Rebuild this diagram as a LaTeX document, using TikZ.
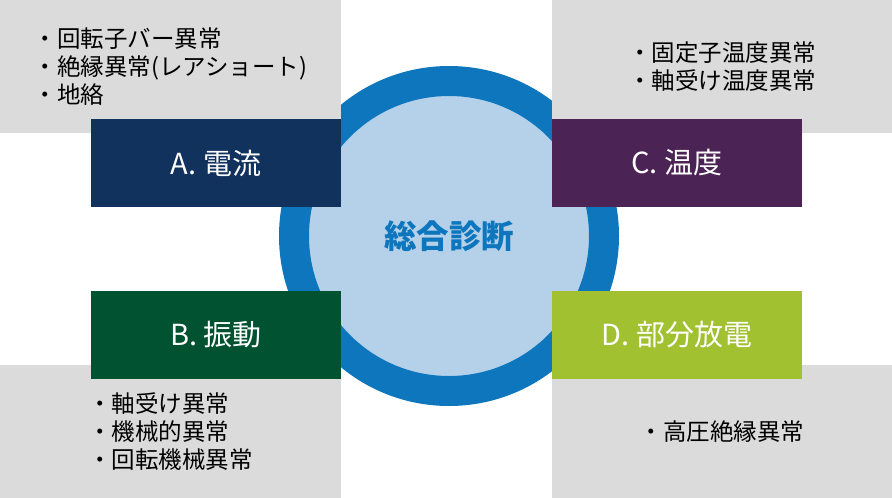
\documentclass[tikz,border=0pt]{standalone}
\usepackage{fontspec}
\setmainfont{Noto Sans CJK JP}
\usepackage{tikz}
\definecolor{ringblue}{HTML}{0D76BD}
\definecolor{coreblue}{HTML}{B5D1EA}
\definecolor{notegray}{HTML}{DBDBDB}
\definecolor{curnavy}{HTML}{12325E}
\definecolor{vibgreen}{HTML}{005230}
\definecolor{tempurple}{HTML}{4B2354}
\definecolor{pdlime}{HTML}{A2C131}
\tikzset{
  notebox/.style={
    fill=notegray,
    minimum width=341pt,
    minimum height=133pt,
    inner sep=0pt,
    align=left,
    font=\fontsize{23.5}{28}\selectfont
  },
  catbox/.style={
    minimum width=250pt,
    minimum height=88pt,
    inner sep=0pt,
    text=white,
    font=\fontsize{29}{30}\selectfont
  }
}

\begin{document}
\begin{tikzpicture}[x=1pt, y=-1pt]
  \useasboundingbox (0,0) rectangle (892,498);

  \node[circle, draw=ringblue, line width=30pt, fill=coreblue, minimum size=310pt,
        text=ringblue, font=\fontsize{32.5}{36}\selectfont\bfseries] (diag) at (449,236) {総合診断};

  \node[notebox] (noteA) at (170.5,66.5) {・回転子バー異常\\・絶縁異常(レアショート)\\・地絡};
  \node[notebox, minimum width=340pt] (noteC) at (722,66.5) {・固定子温度異常\\・軸受け温度異常};
  \node[notebox] (noteB) at (170.5,431.5) {・軸受け異常\\・機械的異常\\・回転機械異常};
  \node[notebox, minimum width=340pt] (noteD) at (722,431.5) {・高圧絶縁異常};

  \node[catbox, fill=curnavy] (curA) at (216,163) {A. 電流};
  \node[catbox, fill=tempurple] (tempC) at (677,163) {C. 温度};
  \node[catbox, fill=vibgreen] (vibB) at (216,335) {B. 振動};
  \node[catbox, fill=pdlime] (pdD) at (677,335) {D. 部分放電};
\end{tikzpicture}
\end{document}
